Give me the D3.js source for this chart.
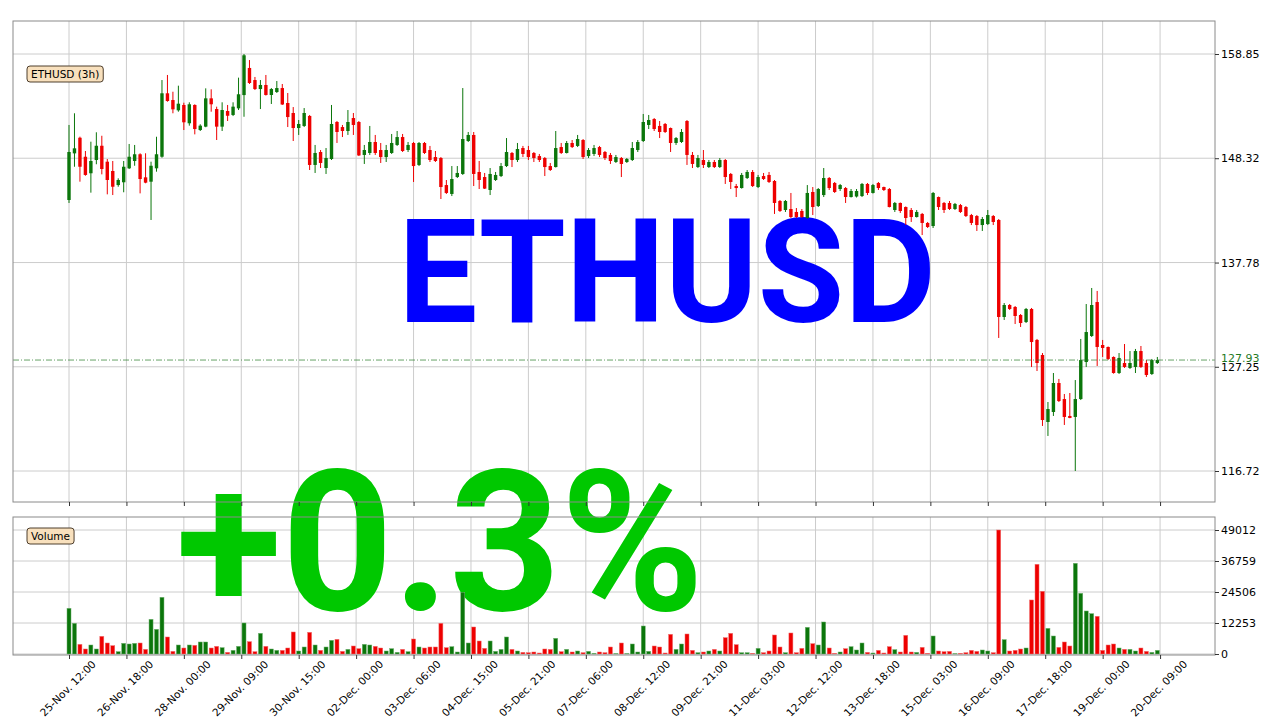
<!DOCTYPE html>
<html><head><meta charset="utf-8">
<script src="https://cdn.jsdelivr.net/npm/d3@7"></script>
<style>body{margin:0;background:#fff}svg{display:block}</style>
</head><body>
<svg id="c" width="1280" height="720"></svg>
<script>
const opens = [144.10,148.81,150.39,148.47,146.80,148.14,149.58,147.97,147.03,145.61,145.89,147.30,148.04,148.72,146.39,145.95,147.30,148.47,154.88,154.20,153.16,153.70,151.85,153.70,151.17,151.51,154.37,153.29,151.51,153.09,152.69,153.36,154.70,157.44,156.22,155.31,155.72,154.71,155.01,155.41,153.90,152.89,151.37,151.58,152.59,147.64,148.95,147.33,148.24,151.98,151.47,151.07,152.38,151.98,148.65,148.85,149.96,149.15,148.44,148.85,149.66,150.46,149.15,149.86,147.64,149.86,149.15,148.44,148.34,145.61,144.71,146.42,146.73,150.06,150.67,146.93,146.42,145.11,146.12,146.52,147.53,148.85,148.14,149.35,149.15,148.85,148.54,148.34,147.53,147.43,149.45,148.85,149.86,149.56,150.16,148.54,148.75,149.45,148.95,148.65,147.94,148.34,147.94,148.14,149.15,150.06,151.68,152.28,151.58,151.78,151.37,149.86,149.96,152.08,148.65,147.43,148.14,147.43,147.94,147.43,148.14,146.73,145.51,145.31,146.32,146.93,145.41,146.52,146.63,146.02,144.00,143.09,143.19,142.89,142.99,142.28,144.91,143.49,144.60,146.32,145.82,145.21,145.31,144.40,144.45,144.50,145.72,144.81,145.82,145.41,145.21,143.09,143.80,143.39,143.09,142.38,142.69,141.78,141.47,144.40,143.80,143.80,143.19,143.59,143.39,142.58,142.48,141.57,141.67,142.48,142.08,132.28,133.49,133.29,132.48,131.77,133.09,129.96,128.44,121.67,122.68,125.61,123.99,122.28,122.18,123.99,127.73,130.36,133.79,129.45,129.25,128.24,126.62,127.63,127.13,127.23,128.84,127.63,126.52,127.63];
const highs = [151.68,152.86,150.50,149.05,149.99,150.94,150.59,148.24,148.04,146.29,148.04,149.76,149.66,148.82,148.82,147.97,150.49,156.22,156.73,155.04,155.65,153.93,153.97,153.77,151.75,155.38,155.28,153.53,153.97,153.70,153.97,156.46,158.85,158.24,156.53,156.22,156.73,155.41,156.12,155.82,154.91,153.49,152.18,153.39,152.69,149.66,149.15,149.35,153.70,152.08,151.68,153.19,152.89,152.08,149.66,151.58,150.67,149.86,149.66,150.77,151.07,150.77,149.96,149.96,149.96,149.96,149.56,149.05,148.44,146.12,147.53,147.53,155.41,150.97,150.97,148.04,146.83,147.33,146.93,147.84,150.36,148.95,149.86,149.56,149.56,148.95,148.75,148.44,147.84,151.07,149.86,150.06,150.16,150.67,150.26,149.35,149.66,149.56,149.05,148.85,148.65,148.44,148.34,149.96,150.16,152.79,152.69,152.38,152.08,151.88,151.42,150.46,151.27,152.18,148.95,148.65,149.15,148.14,148.14,148.34,148.24,146.83,145.72,146.83,147.13,147.13,146.63,146.83,146.93,146.12,144.10,144.10,144.81,143.29,143.19,145.61,145.41,145.31,147.33,146.42,145.92,145.72,145.41,145.21,145.21,145.82,145.82,145.72,145.92,145.45,145.31,143.90,143.85,143.45,143.29,143.09,142.79,141.88,144.91,144.45,143.90,144.00,143.80,143.70,143.49,142.69,142.58,142.38,143.09,142.58,142.18,133.69,133.59,133.39,132.58,133.19,133.19,130.06,128.64,123.69,126.62,126.02,124.50,124.60,125.91,130.06,133.59,135.21,134.91,129.96,129.30,128.30,128.64,129.55,128.84,129.05,129.35,127.93,128.04,128.24];
const lows = [143.80,147.46,145.95,146.55,144.84,147.71,146.69,144.67,144.60,145.44,144.88,147.23,147.56,144.77,145.79,142.08,146.96,148.37,154.03,152.86,153.02,151.17,151.61,150.73,151.07,151.45,153.02,150.16,151.07,152.08,152.58,153.19,152.51,155.82,155.21,153.29,154.65,153.80,154.91,153.70,151.47,150.06,150.67,151.47,147.13,146.83,147.33,146.73,148.14,149.86,150.46,150.67,150.67,148.54,147.74,148.65,148.65,147.84,147.94,148.75,149.56,148.95,148.95,145.92,147.53,148.75,147.94,147.94,144.20,144.71,144.50,146.32,146.63,149.96,145.51,145.21,145.21,144.60,146.02,146.42,147.43,147.43,147.94,148.44,148.14,147.94,147.94,146.52,147.03,147.38,148.75,148.80,149.35,149.45,148.24,148.34,148.54,148.44,148.14,147.74,147.84,146.42,147.84,148.04,148.95,149.96,151.27,151.07,150.36,150.87,148.95,149.66,149.86,147.64,147.33,147.33,147.33,147.33,147.33,147.33,145.72,145.21,144.40,145.25,146.22,145.41,145.31,146.12,145.82,142.69,142.89,142.89,142.28,142.28,142.28,142.20,142.58,143.39,144.40,145.11,144.81,145.01,143.80,144.35,144.35,144.40,144.60,144.75,145.11,145.01,143.35,142.89,142.79,141.57,141.88,142.33,140.56,141.27,141.27,143.09,142.79,143.09,143.09,142.79,142.38,141.57,140.97,140.97,141.57,141.57,130.16,131.98,132.99,131.57,131.27,131.67,127.23,126.82,121.27,120.26,122.28,123.69,121.37,122.05,116.72,123.89,127.23,130.26,127.33,128.24,127.93,126.55,126.52,127.13,127.03,126.62,127.13,126.22,126.42,127.53];
const closes = [148.95,149.32,147.46,146.63,148.04,149.58,147.23,146.12,145.44,146.12,147.46,148.47,148.72,146.22,145.85,147.56,148.72,154.88,154.10,153.26,153.83,151.95,153.77,151.27,151.61,154.37,153.77,151.51,153.19,152.61,153.53,154.78,158.72,155.92,155.31,155.72,154.71,155.31,155.41,153.75,152.48,151.37,151.78,152.89,147.64,148.85,147.84,148.34,151.78,150.97,151.07,151.98,151.68,148.60,149.15,149.96,148.85,148.44,149.15,149.86,150.46,149.05,149.66,147.53,149.86,148.85,148.14,148.04,145.41,144.81,146.22,146.83,150.26,150.67,146.73,146.12,145.25,146.73,146.63,147.53,148.95,148.14,149.25,148.75,148.44,148.34,148.14,147.43,147.13,149.35,148.85,149.86,149.45,150.26,148.44,149.15,149.35,148.65,148.34,148.04,148.44,147.74,148.24,149.35,149.96,151.98,152.18,151.27,150.97,150.97,149.86,150.36,150.97,148.65,147.74,148.34,147.64,147.94,147.43,148.14,146.42,145.92,145.31,146.63,146.93,145.51,146.42,146.22,145.92,143.80,142.99,144.00,142.38,142.38,142.38,144.81,143.39,145.21,146.32,145.31,144.91,145.61,144.40,145.01,145.01,145.72,144.81,145.61,145.31,145.11,143.39,143.80,142.99,142.28,142.38,142.89,141.78,141.37,144.81,143.39,143.09,143.19,143.70,142.89,142.48,141.78,141.57,142.18,142.58,141.88,132.28,133.49,133.09,132.38,131.67,133.09,129.75,127.63,121.87,122.98,125.61,123.79,122.18,122.08,123.99,127.93,130.76,133.49,129.25,129.15,128.04,126.62,128.14,127.23,127.63,128.84,127.23,126.42,127.93,127.93];
const volumes = [18057,12126,3822,1977,3559,1977,6985,4349,3295,923,4218,3954,4218,4349,1845,13707,9753,22406,6722,1054,3559,2372,3559,3427,4745,4745,2372,3031,2504,659,1450,3031,12257,4877,923,8172,3031,1977,1450,1450,2372,8699,1186,2768,8567,3559,1450,2768,5404,5799,1054,1845,3163,2109,3822,3559,3031,2372,1186,2109,659,1845,923,5931,2768,2372,2768,2768,12126,2504,2900,791,24383,4349,10676,5140,2241,5140,1054,1845,6722,1845,1186,659,527,791,395,1977,1845,6195,923,1845,791,1186,527,1054,264,791,527,2768,132,4349,132,3954,791,11071,1054,3163,2768,395,7776,1845,3954,7908,1450,527,791,1186,1845,1186,6458,8172,3690,527,527,264,2241,527,1186,7513,2768,527,8303,527,2241,10544,4086,3559,12653,2372,264,791,2109,2900,1582,4349,659,395,1450,395,2900,1713,791,7381,791,659,2636,264,7117,1186,923,1054,100,264,527,1450,1054,1582,1186,527,49012,5667,1186,1450,1977,2372,21352,35454,24778,10149,7117,2636,4745,3163,35850,23988,17002,15948,14893,1450,3559,3954,2372,1845,1845,1186,2372,1054,659,1450];
const xTickLabels = ["25-Nov. 12:00","26-Nov. 18:00","28-Nov. 00:00","29-Nov. 09:00","30-Nov. 15:00","02-Dec. 00:00","03-Dec. 06:00","04-Dec. 15:00","05-Dec. 21:00","07-Dec. 06:00","08-Dec. 12:00","09-Dec. 21:00","11-Dec. 03:00","12-Dec. 12:00","13-Dec. 18:00","15-Dec. 03:00","16-Dec. 09:00","17-Dec. 18:00","19-Dec. 00:00","20-Dec. 09:00"];
const priceTicks = [116.72,127.25,137.78,148.32,158.85];
const volumeTicks = [0,12253,24506,36759,49012];
const lastPrice = 127.93;
const symbolLabel = "ETHUSD (3h)";
const volumeLabel = "Volume";
const bigSymbol = "ETHUSD";
const bigChange = "+0.3%";

const svg = d3.select("#c");
const L = 13, R = 1215, T1 = 21, B1 = 502, T2 = 517, B2 = 655;
const UP = "#0b760b", DOWN = "#ee0000";
const n = opens.length;
const x = d3.scaleLinear().domain([0, n - 1]).range([69, 69 + 5.469 * (n - 1)]);
const y = d3.scaleLinear().domain([116.72, 158.85]).range([471, 54]);
const yv = d3.scaleLinear().domain([0, 49012]).range([654, 530]);
const xTicks = xTickLabels.map((d, i) => i * 10.5);
const font = "DejaVu Sans, sans-serif";

// grids
const g = svg.append("g").attr("stroke", "#cccccc").attr("stroke-width", 1);
xTicks.forEach(t => {
  g.append("line").attr("x1", x(t)).attr("x2", x(t)).attr("y1", T1).attr("y2", B1);
  g.append("line").attr("x1", x(t)).attr("x2", x(t)).attr("y1", T2).attr("y2", B2);
});
priceTicks.forEach(t => g.append("line").attr("x1", L).attr("x2", R).attr("y1", y(t)).attr("y2", y(t)));
volumeTicks.forEach(t => g.append("line").attr("x1", L).attr("x2", R).attr("y1", yv(t)).attr("y2", yv(t)));

// big overlay texts
function bigText(tx, ty, size, color, txt, squeeze) {
  const t = svg.append("text").attr("x", tx).attr("y", ty).attr("text-anchor", "middle")
    .attr("font-family", "Roboto, sans-serif").attr("font-weight", 700).attr("font-size", size)
    .attr("fill", color).text(txt);
  const len = t.node().getComputedTextLength();
  t.attr("textLength", len * squeeze).attr("lengthAdjust", "spacingAndGlyphs");
}
bigText(667, 322, 145, "#0000ff", bigSymbol, 0.97);
bigText(440, 610, 196, "#00c800", bigChange, 0.99);

// candles
const idx = d3.range(n);
const cg = svg.append("g");
cg.selectAll("line.w").data(idx).join("line")
  .attr("x1", i => x(i)).attr("x2", i => x(i))
  .attr("y1", i => y(highs[i])).attr("y2", i => y(lows[i]))
  .attr("stroke", i => closes[i] >= opens[i] ? UP : DOWN).attr("stroke-width", 1);
cg.selectAll("rect.b").data(idx).join("rect")
  .attr("x", i => x(i) - 1.7).attr("width", 3.4)
  .attr("y", i => y(Math.max(opens[i], closes[i])))
  .attr("height", i => Math.max(0.8, Math.abs(y(opens[i]) - y(closes[i]))))
  .attr("fill", i => closes[i] >= opens[i] ? UP : DOWN);

// volume bars
svg.append("g").selectAll("rect").data(idx).join("rect")
  .attr("x", i => x(i) - 2).attr("width", 4)
  .attr("y", i => yv(volumes[i])).attr("height", i => yv(0) - yv(volumes[i]))
  .attr("fill", i => closes[i] >= opens[i] ? UP : DOWN)
  .attr("stroke", i => closes[i] >= opens[i] ? "#6fb06f" : "#f07070").attr("stroke-width", 0.5);

// last price line
svg.append("line").attr("x1", L).attr("x2", R).attr("y1", y(lastPrice)).attr("y2", y(lastPrice))
  .attr("stroke", "#2f7f2f").attr("stroke-width", 0.9).attr("stroke-dasharray", "6,2,1,2").attr("opacity", 0.8);

// frames
[[T1, B1], [T2, B2]].forEach(([t, b]) => svg.append("rect").attr("x", L).attr("y", t)
  .attr("width", R - L).attr("height", b - t).attr("fill", "none").attr("stroke", "#8a8a8a").attr("stroke-width", 1));

// axes
function styleAxis(sel) {
  sel.select(".domain").remove();
  sel.selectAll("text").attr("font-family", font).attr("font-size", 11).attr("fill", "#000");
  sel.selectAll("line").attr("stroke", "#333");
}
svg.append("g").attr("transform", `translate(${R},0)`)
  .call(d3.axisRight(y).tickValues(priceTicks).tickFormat(d => d.toFixed(2)).tickSize(4).tickPadding(2))
  .call(styleAxis);
svg.append("g").attr("transform", `translate(${R},0)`)
  .call(d3.axisRight(yv).tickValues(volumeTicks).tickFormat(d3.format("d")).tickSize(4).tickPadding(2))
  .call(styleAxis);
svg.append("text").attr("x", R + 6).attr("y", y(lastPrice) + 1.5).attr("font-family", font)
  .attr("font-size", 11).attr("fill", "#1f7a1f").text(lastPrice.toFixed(2));

svg.append("g").attr("transform", `translate(0,${B1})`)
  .call(d3.axisBottom(x).tickValues(xTicks).tickFormat("").tickSize(4))
  .call(styleAxis);
const xa = svg.append("g").attr("transform", `translate(0,${B2})`)
  .call(d3.axisBottom(x).tickValues(xTicks).tickFormat((d, i) => xTickLabels[i]).tickSize(4))
  .call(styleAxis);
xa.selectAll("text").attr("text-anchor", "middle").attr("dy", 0).attr("font-size", 10.5)
  .attr("transform", "translate(1,36) rotate(-45)").attr("y", 0);

// label boxes
function labelBox(tx, ty, txt) {
  const t = svg.append("text").attr("x", tx).attr("y", ty).attr("font-family", font)
    .attr("font-size", 10.5).attr("fill", "#000").text(txt);
  const bb = t.node().getBBox();
  svg.insert("rect", () => t.node()).attr("x", bb.x - 4).attr("y", bb.y - 2)
    .attr("width", bb.width + 8).attr("height", bb.height + 4).attr("rx", 3)
    .attr("fill", "#f8e0bd").attr("stroke", "#3a2a1a").attr("stroke-width", 0.9);
}
labelBox(31, 78, symbolLabel);
labelBox(31, 540, volumeLabel);
</script>
</body></html>
